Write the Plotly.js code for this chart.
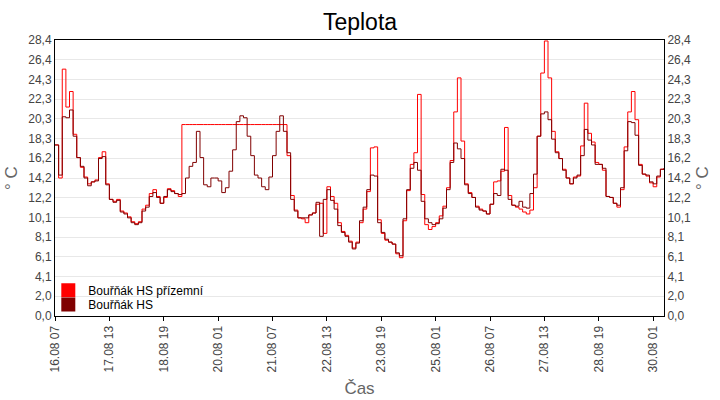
<!DOCTYPE html>
<html>
<head>
<meta charset="utf-8">
<script src="https://cdn.plot.ly/plotly-3.0.1.min.js"></script>
<style>
  html, body { margin: 0; padding: 0; background: #fff; }
  #chart { width: 720px; height: 400px; }
</style>
</head>
<body>
<div id="chart"></div>
<script>
// two-hour readings from 16.08 07:00
const startTime = Date.UTC(2013, 7, 16, 7, 0)
const stepHours = 2

const groundTemp = [
  17.6, 14.2, 25.4, 21.5, 23.1, 18.7, 16.3, 15.3, 14.3, 13.6,
  13.8, 14.0, 16.3, 16.9, 13.6, 12.0, 11.8, 12.0, 10.8, 10.6,
  10.2, 9.7, 9.5, 9.7, 11.0, 11.4, 12.6, 13.0, 12.3, 11.6,
  12.2, 13.1, 12.9, 12.6, 12.3, 19.7, 19.7, 19.7, 19.7, 19.7,
  19.7, 19.7, 19.7, 19.7, 19.7, 19.7, 19.7, 19.7, 19.7, 19.7,
  19.7, 19.7, 19.7, 19.7, 19.7, 19.7, 19.7, 19.7, 19.7, 19.7,
  19.7, 19.7, 19.7, 19.7, 16.5, 12.4, 10.9, 10.1, 10.0, 9.6,
  10.4, 10.6, 11.5, 11.6, 8.5, 13.3, 12.3, 11.6, 9.6, 8.7,
  8.3, 7.7, 7.0, 7.6, 9.6, 11.0, 12.8, 17.3, 17.4, 9.9,
  8.5, 7.8, 7.6, 7.4, 6.4, 6.0, 9.8, 12.9, 15.6, 16.8,
  22.8, 12.5, 9.4, 8.9, 9.2, 9.6, 10.3, 11.3, 13.2, 16.0,
  21.0, 24.5, 18.0, 13.6, 12.7, 12.2, 11.3, 11.0, 10.8, 10.5,
  11.5, 13.8, 13.9, 14.9, 19.4, 12.4, 11.4, 11.2, 11.0, 10.7,
  10.5, 10.9, 13.2, 18.5, 25.0, 28.3, 24.5, 19.0, 16.9, 16.2,
  15.1, 14.2, 13.6, 14.3, 14.4, 17.5, 21.9, 18.8, 17.9, 15.8,
  15.6, 15.0, 12.3, 12.2, 11.6, 11.2, 13.0, 17.4, 21.0, 23.1,
  20.2, 15.6, 14.6, 14.4, 13.7, 13.3, 14.3, 15.1, 15.2
]

const stationTemp = [
  17.6, 14.5, 20.5, 20.4, 21.2, 18.5, 16.3, 15.4, 14.2, 13.4,
  13.8, 13.9, 16.2, 16.4, 13.5, 12.0, 11.7, 11.9, 10.7, 10.5,
  10.1, 9.6, 9.4, 9.6, 10.8, 11.2, 12.3, 12.7, 12.2, 11.6,
  12.3, 13.0, 12.8, 12.6, 12.5, 12.6, 14.2, 15.4, 15.8, 19.0,
  16.3, 13.5, 13.3, 14.2, 14.2, 13.9, 12.7, 13.2, 14.9, 17.1,
  20.0, 20.6, 20.4, 18.5, 16.5, 14.5, 14.2, 13.3, 13.0, 14.3,
  16.5, 19.0, 20.6, 19.0, 16.8, 12.0, 10.8, 10.1, 10.1, 10.1,
  10.4, 10.6, 11.7, 8.2, 12.0, 13.0, 11.9, 11.0, 9.3, 8.6,
  8.2, 7.6, 6.9, 7.5, 9.8, 11.2, 13.0, 14.5, 14.4, 9.6,
  8.6, 7.9, 7.6, 7.4, 6.5, 6.2, 10.0, 13.0, 15.2, 15.8,
  15.0, 11.8, 10.0, 9.6, 9.4, 9.5, 10.0, 11.1, 13.0, 15.8,
  17.8, 17.2, 16.2, 13.5, 12.6, 12.2, 11.2, 10.9, 10.8, 10.5,
  11.5, 12.6, 12.4, 15.1, 15.0, 12.0, 11.4, 11.3, 11.8, 11.2,
  11.1, 12.6, 14.6, 18.5, 20.8, 21.0, 20.2, 18.2, 16.8, 16.2,
  15.0, 14.2, 13.6, 14.2, 14.5, 16.5, 19.2, 18.1, 17.6, 15.6,
  15.6, 15.2, 12.3, 12.2, 11.6, 11.4, 13.2, 17.0, 20.0, 19.9,
  18.6, 15.5, 14.6, 14.5, 13.8, 13.6, 14.4, 15.1, 15.2
]

const seriesNames = ['Bouřňák HS přízemní', 'Bouřňák HS']
const seriesColors = ['#ff0000', '#800000']
const yTickText = ['0,0', '2,0', '4,1', '6,1', '8,1', '10,1', '12,2', '14,2',
  '16,2', '18,3', '20,3', '22,3', '24,3', '26,4', '28,4']
const yMax = 28.4

function stamp(ms) {
  return new Date(ms).toISOString().slice(0, 16).replace('T', ' ')
}

const times = groundTemp.map((_, i) => stamp(startTime + i * stepHours * 3600000))
const yTickVals = yTickText.map((_, i) => i * yMax / (yTickText.length - 1))

const lineTrace = (values, k) => ({
  x: times, y: values, name: seriesNames[k], type: 'scatter', mode: 'lines',
  line: { color: seriesColors[k], width: 1, shape: 'hv' },
  showlegend: false, hoverinfo: 'x+y'
})

// legend entries drawn as squares, one legend box per series
const legendTrace = (k, legendId) => ({
  x: [null], y: [null], name: seriesNames[k], type: 'scatter', mode: 'markers',
  marker: { symbol: 'square', size: 14, color: seriesColors[k] },
  legend: legendId
})

const data = [
  lineTrace(groundTemp, 0),
  lineTrace(stationTemp, 1),
  legendTrace(0, 'legend'),
  legendTrace(1, 'legend2'),
  { x: [times[0]], y: [null], yaxis: 'y2', showlegend: false, hoverinfo: 'skip', mode: 'lines' }
]

const fontFamily = 'Liberation Sans, Arial, sans-serif'
const tickFont = { family: fontFamily, size: 12, color: '#444' }
const titleFont = { family: fontFamily, size: 17, color: '#666' }
const legendFont = { family: fontFamily, size: 12, color: '#000' }

const yCommon = {
  range: [0, yMax], tickvals: yTickVals, ticktext: yTickText, tickfont: tickFont,
  showline: true, linecolor: '#000', linewidth: 1, zeroline: false, fixedrange: true,
  ticks: '', title: { text: '° C', font: titleFont, standoff: 6 }
}

const legendBox = (y) => ({
  x: -0.011, y: y, xanchor: 'left', yanchor: 'middle',
  bgcolor: 'rgba(0,0,0,0)', font: legendFont, itemwidth: 30
})

const layout = {
  width: 720, height: 400,
  margin: { l: 55, r: 56, t: 40, b: 84 },
  paper_bgcolor: '#fff', plot_bgcolor: '#fff',
  title: { text: 'Teplota', x: 0.5, xanchor: 'center', y: 0.945, yanchor: 'middle',
    font: { family: fontFamily, size: 23, color: '#000' } },
  xaxis: {
    type: 'date', range: [stamp(startTime), stamp(startTime + 336 * 3600000)],
    tick0: stamp(startTime), dtick: 30 * 3600000, tickformat: '%d.%m %H',
    tickangle: -90, tickfont: tickFont, ticks: 'outside', ticklen: 4, tickcolor: '#000',
    showgrid: false, showline: true, linecolor: '#000', linewidth: 1, mirror: true,
    zeroline: false, fixedrange: true,
    title: { text: 'Čas', font: titleFont, standoff: 10 }
  },
  yaxis: Object.assign({}, yCommon, { side: 'left', showgrid: true, gridcolor: '#e8e8e8' }),
  yaxis2: Object.assign({}, yCommon, { side: 'right', overlaying: 'y', showgrid: false }),
  showlegend: true,
  legend: legendBox(0.093),
  legend2: legendBox(0.042)
}

Plotly.newPlot('chart', data, layout, { displayModeBar: false, staticPlot: true })
</script>
</body>
</html>
